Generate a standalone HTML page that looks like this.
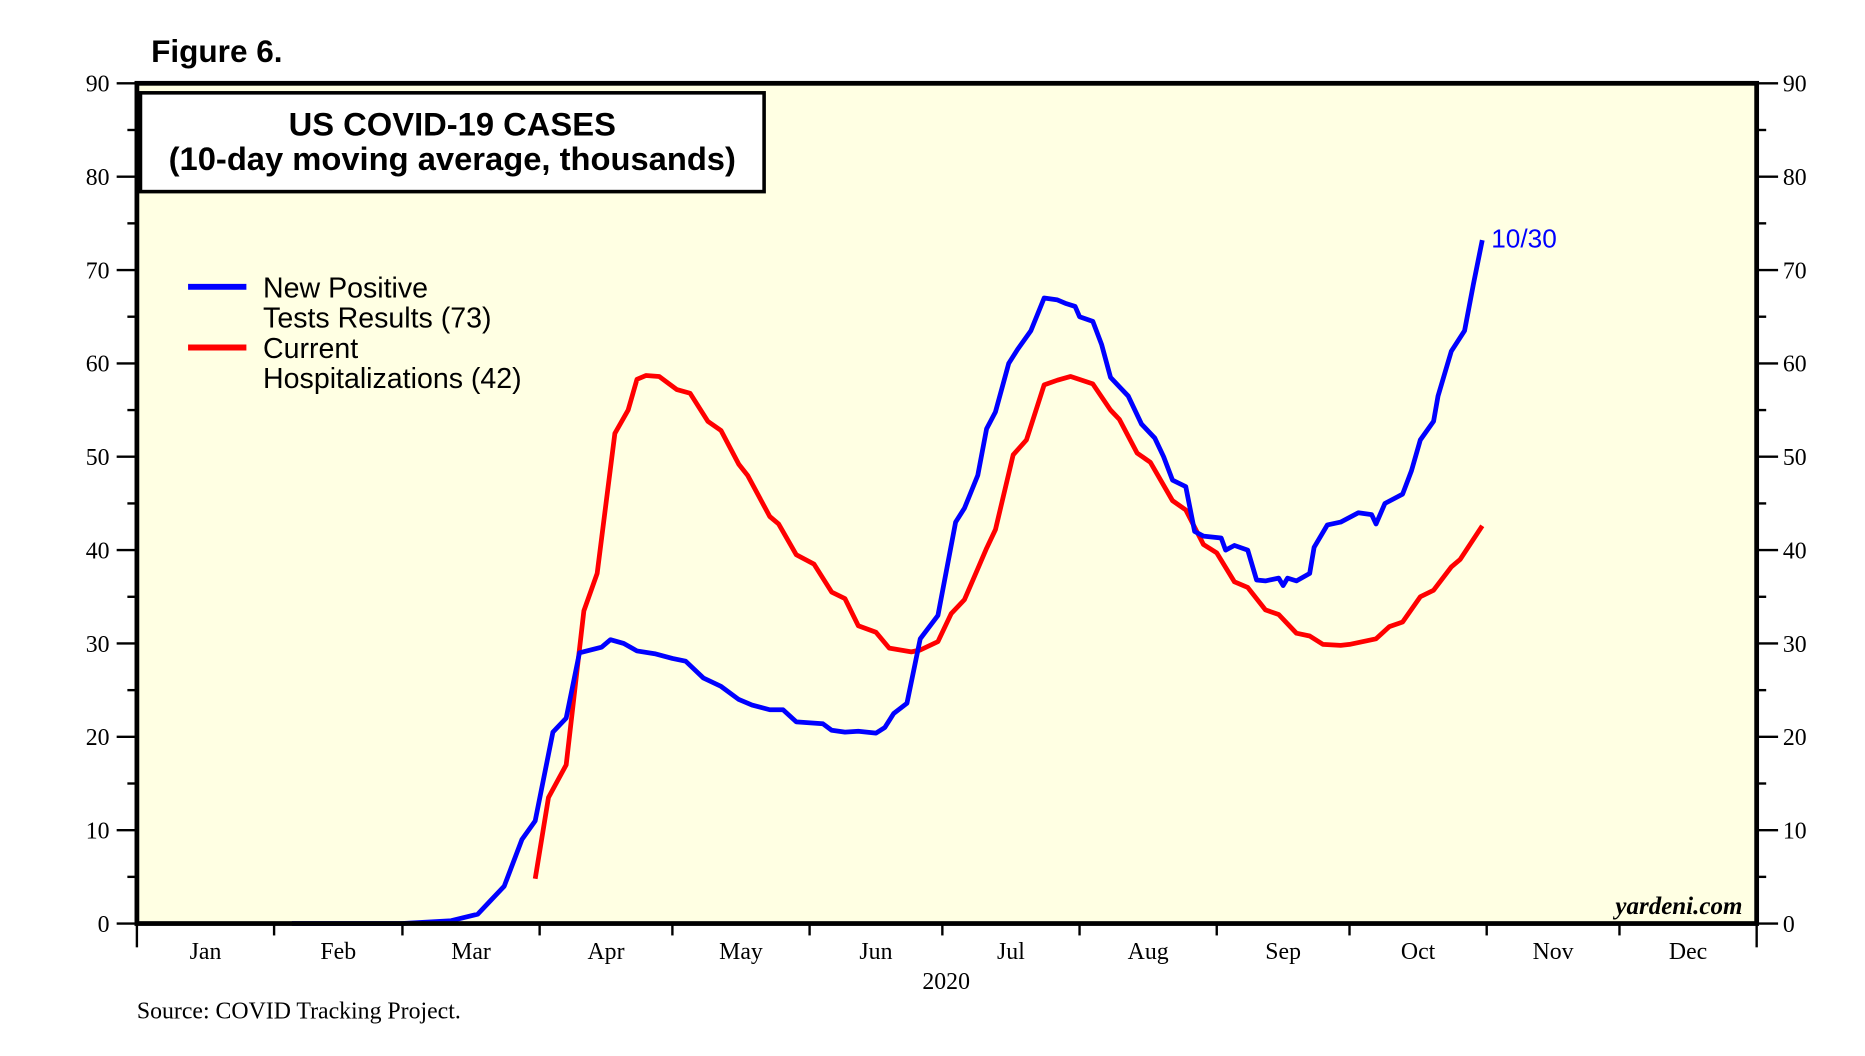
<!DOCTYPE html>
<html><head><meta charset="utf-8"><style>
html,body{margin:0;padding:0;background:#fff;}
svg{display:block;}
.tk{font-family:"Liberation Serif",serif;font-size:20px;fill:#000;}
.sans{font-family:"Liberation Sans",sans-serif;fill:#000;}
</style></head><body>
<svg id="chart" width="1865" height="1056" viewBox="0 0 1567 887.3" xmlns="http://www.w3.org/2000/svg">
<text class="sans" x="127" y="52" font-size="26.5" font-weight="bold">Figure 6.</text>
<rect x="115" y="70" width="1361" height="706" fill="#FFFFE3"/>
<g id="axes"></g>
<g id="series"></g>
<rect x="115" y="70" width="1361" height="706" fill="none" stroke="#000" stroke-width="4"/>
<rect x="118" y="78" width="524" height="83" fill="#fff" stroke="#000" stroke-width="3"/>
<text class="sans" x="380" y="114" font-size="27.5" font-weight="bold" text-anchor="middle">US COVID-19 CASES</text>
<text class="sans" x="380" y="143" font-size="27.5" font-weight="bold" text-anchor="middle">(10-day moving average, thousands)</text>
<g>
<line x1="158" y1="241" x2="207" y2="241" stroke="#0000FF" stroke-width="5"/>
<text class="sans" x="221" y="250" font-size="24">New Positive</text>
<text class="sans" x="221" y="275" font-size="24">Tests Results (73)</text>
<line x1="158" y1="292" x2="207" y2="292" stroke="#FF0000" stroke-width="5"/>
<text class="sans" x="221" y="301" font-size="24">Current</text>
<text class="sans" x="221" y="326" font-size="24">Hospitalizations (42)</text>
</g>
<text class="sans" x="1253" y="208" font-size="22" style="fill:#0000FF">10/30</text>
<text x="1464" y="768" text-anchor="end" font-family="Liberation Serif,serif" font-size="21" font-weight="bold" font-style="italic">yardeni.com</text>
<text class="tk" x="795" y="831" text-anchor="middle" font-size="21">2020</text>
<text class="tk" x="115" y="856" font-size="22.5">Source: COVID Tracking Project.</text>
</svg>
<script>
const monthLabels=["Jan","Feb","Mar","Apr","May","Jun","Jul","Aug","Sep","Oct","Nov","Dec"];
const monthStarts=[0,31,60,91,121,152,182,213,244,274,305,335,366];
const yTicks=[0,10,20,30,40,50,60,70,80,90];
const posDays=[35,60,71,77,80,83,87,90,94,97,100,105,107,110,113,117,121,124,128,132,136,139,143,146,149,155,157,160,163,167,169,171,174,177,181,185,187,190,192,194,197,199,202,205,208,210,212,213,216,218,220,222,224,227,230,232,234,237,239,241,245,246,248,251,253,255,258,259,260,262,265,266,269,272,276,279,280,282,286,288,290,293,294,297,300,302,304];
const posVals=[0,0,0.3,1,2.5,4,9,11,20.5,22,29,29.6,30.4,30,29.2,28.9,28.4,28.1,26.3,25.4,24,23.4,22.9,22.9,21.6,21.4,20.7,20.5,20.6,20.4,21,22.5,23.6,30.5,33,43,44.5,48,53,54.8,60,61.5,63.5,67,66.8,66.4,66.1,65,64.5,62,58.5,57.5,56.5,53.5,52,50,47.5,46.8,42,41.5,41.3,40,40.5,40,36.8,36.7,37,36.2,37,36.7,37.5,40.3,42.7,43,44,43.8,42.8,45,46,48.5,51.8,53.8,56.5,61.3,63.5,68.5,73.2];
const hospDays=[90,93,97,101,104,108,111,113,115,118,122,125,129,132,136,138,143,145,149,153,157,160,163,167,170,175,177,181,184,187,190,192,194,198,201,205,208,211,216,220,222,226,229,234,237,241,244,248,251,255,258,262,265,268,272,274,278,280,283,286,290,293,297,299,304];
const hospVals=[4.8,13.5,17,33.5,37.5,52.5,55,58.3,58.7,58.6,57.2,56.8,53.8,52.8,49.2,48,43.6,42.8,39.5,38.5,35.5,34.8,31.9,31.2,29.5,29.1,29.3,30.2,33.2,34.7,38,40.2,42.2,50.2,51.8,57.7,58.2,58.6,57.8,55,54,50.4,49.4,45.3,44.3,40.6,39.7,36.6,36,33.6,33.1,31.1,30.8,29.9,29.8,29.9,30.3,30.5,31.8,32.3,35,35.7,38.2,39,42.6];
const X0=115,X1=1476,Y0=776,Y1=70;
const xs=d=>X0+d*(X1-X0)/366;
const ys=v=>Y0-v*(Y0-Y1)/90;
const NS="http://www.w3.org/2000/svg";
const axes=document.getElementById('axes'),series=document.getElementById('series');
function mk(tag,attrs,parent){const e=document.createElementNS(NS,tag);for(const k in attrs)e.setAttribute(k,attrs[k]);parent.appendChild(e);return e;}
yTicks.forEach(v=>{
  const y=ys(v);
  const l=mk('line',{x1:98,x2:115,y1:y,y2:y,stroke:'#000','stroke-width':2},axes);
  
  
  const r=mk('line',{x1:1476,x2:1494,y1:y,y2:y,stroke:'#000','stroke-width':2},axes);
  
  
  const t=mk('text',{x:92,y:y+7,'text-anchor':'end',class:'tk'},axes);t.textContent=v;
  
  
  const t2=mk('text',{x:1498,y:y+7,class:'tk'},axes);t2.textContent=v;
  
  
  if(v<90){const ym=ys(v+5);
    const a=mk('line',{x1:107,x2:115,y1:ym,y2:ym,stroke:'#000','stroke-width':2},axes);
    
    
    const b=mk('line',{x1:1476,x2:1484,y1:ym,y2:ym,stroke:'#000','stroke-width':2},axes);
    
    }
});
monthStarts.forEach((d,i)=>{
  const x=xs(d);const end=(i==0||i==12);
  const l=mk('line',{x1:x,x2:x,y1:776,y2:end?796:786,stroke:'#000','stroke-width':2},axes);
  
  
  if(i<12){const t=mk('text',{x:xs((d+monthStarts[i+1])/2),y:806,'text-anchor':'middle',class:'tk','font-size':21},axes);t.textContent=monthLabels[i];
    
    }
});
function line(days,vals,color,name){
  const p=mk('polyline',{points:days.map((d,i)=>xs(d)+','+ys(vals[i])).join(' '),fill:'none',stroke:color,'stroke-width':4,'stroke-linejoin':'round'},series);
  
  
}
line(hospDays,hospVals,'#FF0000','hospitalizations-line');
line(posDays,posVals,'#0000FF','positive-tests-line');
</script>
</body></html>
